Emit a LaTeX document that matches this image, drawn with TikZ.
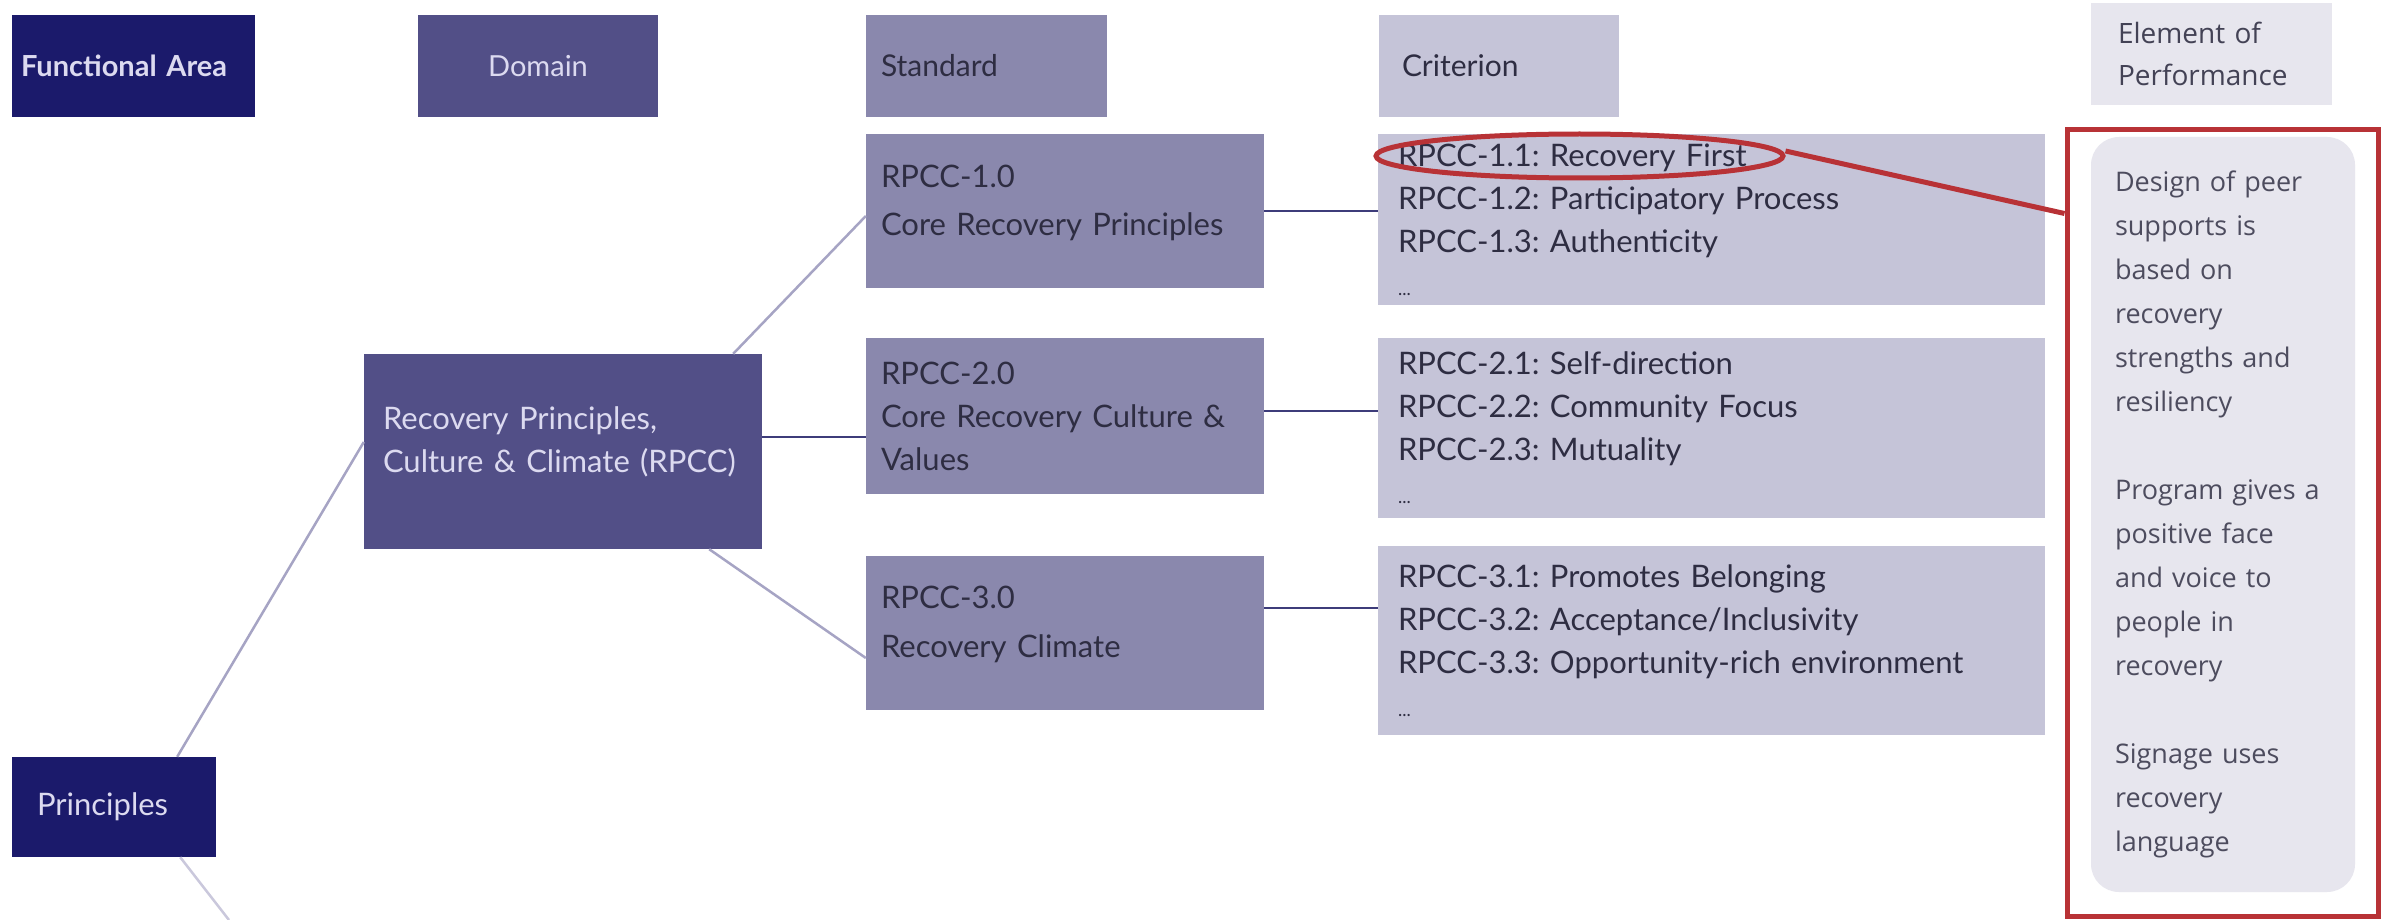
\documentclass[tikz,border=0pt]{standalone}
\usepackage{fontspec}
\setmainfont{Lato}
\newfontfamily\eopfont{Open Sans}
\usetikzlibrary{shapes.geometric}
\frenchspacing
\definecolor{navy}{HTML}{1B1A6B}
\definecolor{dompurple}{HTML}{524F87}
\definecolor{stdpurple}{HTML}{8A88AD}
\definecolor{critgray}{HTML}{C5C4D8}
\definecolor{eopgray}{HTML}{E7E6EE}
\definecolor{hlred}{HTML}{B83236}
\definecolor{diagline}{HTML}{A6A4C4}
\definecolor{horline}{HTML}{3D3C7A}
\definecolor{lighttext}{HTML}{DCDAF0}
\definecolor{darktext}{HTML}{2E2D42}
\begin{document}
\begin{tikzpicture}[x=1pt,y=-1pt,
  cell/.style={rectangle, inner ysep=0pt, align=left, font=\fontsize{31}{43}\selectfont},
  hdr/.style={cell, minimum height=102pt},
  diag/.style={draw=diagline, line width=2.5pt},
  hor/.style={draw=horline, line width=2.5pt}]
\useasboundingbox[fill=white] (0,0) rectangle (2390,920);

% header row
\node[hdr, fill=navy, text=lighttext, minimum width=243pt, inner xsep=9pt, text width=225pt,
  font=\fontsize{29}{40}\selectfont\bfseries] (hfa) at (133.5,66) {Functional Area};
\node[hdr, fill=dompurple, text=lighttext, minimum width=240pt, inner xsep=10pt, text width=220pt, align=center,
  font=\fontsize{29}{40}\selectfont] (hdom) at (538,66) {Domain};
\node[hdr, fill=stdpurple, text=darktext, minimum width=241pt, inner xsep=15pt, text width=211pt,
  font=\fontsize{30}{40}\selectfont] (hstd) at (986.5,66) {Standard};
\node[hdr, fill=critgray, text=darktext, minimum width=240pt, inner xsep=23pt, text width=194pt,
  font=\fontsize{30}{40}\selectfont] (hcrit) at (1499,66) {Criterion};
\node[hdr, fill=eopgray, text=darktext!90, minimum width=241pt, inner xsep=27pt, text width=187pt,
  font=\eopfont\fontsize{28}{42}\selectfont] (heop) at (2211.5,54) {Element of\\Performance};

% functional area and domain
\node[cell, fill=navy, text=lighttext, minimum width=204pt, minimum height=100pt, inner xsep=25pt, text width=154pt] (p) at (114,807) {Principles};
\node[cell, fill=dompurple, text=lighttext, minimum width=398pt, minimum height=195pt, inner xsep=19pt, text width=360pt] (d) at (563,451.5) {Recovery Principles,\\Culture \& Climate (RPCC)\\[-19pt]\mbox{}};

% standards
\node[cell, fill=stdpurple, text=darktext, minimum width=398pt, minimum height=154pt, inner xsep=15pt, text width=368pt] (s1) at (1065,211) {RPCC-1.0\\[5pt]Core Recovery Principles\\[-21pt]\mbox{}};
\node[cell, fill=stdpurple, text=darktext, minimum width=398pt, minimum height=156pt, inner xsep=15pt, text width=368pt] (s2) at (1065,416) {RPCC-2.0\\Core Recovery Culture \&\\Values};
\node[cell, fill=stdpurple, text=darktext, minimum width=398pt, minimum height=154pt, inner xsep=15pt, text width=368pt] (s3) at (1065,633) {RPCC-3.0\\[6pt]Recovery Climate\\[-21pt]\mbox{}};

% criteria
\node[cell, fill=critgray, text=darktext, minimum width=667pt, minimum height=171pt, inner xsep=20pt, text width=627pt] (c1) at (1711.5,219.5)
  {RPCC-1.1: Recovery First\\RPCC-1.2: Participatory Process\\RPCC-1.3: Authenticity\\{\fontsize{18}{43}\selectfont ...}};
\node[cell, fill=critgray, text=darktext, minimum width=667pt, minimum height=180pt, inner xsep=20pt, text width=627pt] (c2) at (1711.5,428)
  {RPCC-2.1: Self-direction\\RPCC-2.2: Community Focus\\RPCC-2.3: Mutuality\\{\fontsize{18}{43}\selectfont ...}};
\node[cell, fill=critgray, text=darktext, minimum width=667pt, minimum height=189pt, inner xsep=20pt, text width=627pt] (c3) at (1711.5,640.5)
  {RPCC-3.1: Promotes Belonging\\RPCC-3.2: Acceptance/Inclusivity\\RPCC-3.3: Opportunity-rich environment\\{\fontsize{18}{43}\selectfont ...}};

% element of performance
\node[rectangle, draw=hlred, line width=5pt, minimum width=311pt, minimum height=786pt, inner sep=0pt] (frame) at (2222.5,523) {};
\node[rectangle, rounded corners=28pt, fill=eopgray, text=darktext!85, minimum width=264pt, minimum height=755pt,
  inner xsep=24pt, inner ysep=0pt, text width=216pt, align=left, font=\eopfont\fontsize{27}{44}\selectfont] (eop) at (2223,514.5)
  {Design of peer\\supports is\\based on\\recovery\\strengths and\\resiliency\\[44pt]Program gives a\\positive face\\and voice to\\people in\\recovery\\[44pt]Signage uses\\recovery\\language};

% highlight
\node[ellipse, draw=hlred, line width=5pt, minimum width=407pt, minimum height=44pt, inner sep=0pt] (hl) at (1579.5,156) {};
\draw[draw=hlred, line width=5pt] ([yshift=5pt]hl.east) -- ([yshift=-86pt]frame.north west);

% connectors
\coordinate (tail) at (229,920);
\draw[diag] ([xshift=-39pt]p.north east) -- ([yshift=9.5pt]d.west);
\draw[diag, draw=diagline!60] ([xshift=-36pt]p.south east) -- (tail);
\draw[diag] ([xshift=-29pt]d.north east) -- ([yshift=-5pt]s1.west);
\draw[diag] ([xshift=-53pt]d.south east) -- ([yshift=-25pt]s3.west);
\draw[hor] ([yshift=14.5pt]d.east) -- ([yshift=14.5pt]d.east -| s2.west);
\draw[hor] (s1.east) -- (s1.east -| c1.west);
\draw[hor] ([yshift=5pt]s2.east) -- ([yshift=5pt]s2.east -| c2.west);
\draw[hor] ([yshift=25pt]s3.east) -- ([yshift=25pt]s3.east -| c3.west);
\end{tikzpicture}
\end{document}
